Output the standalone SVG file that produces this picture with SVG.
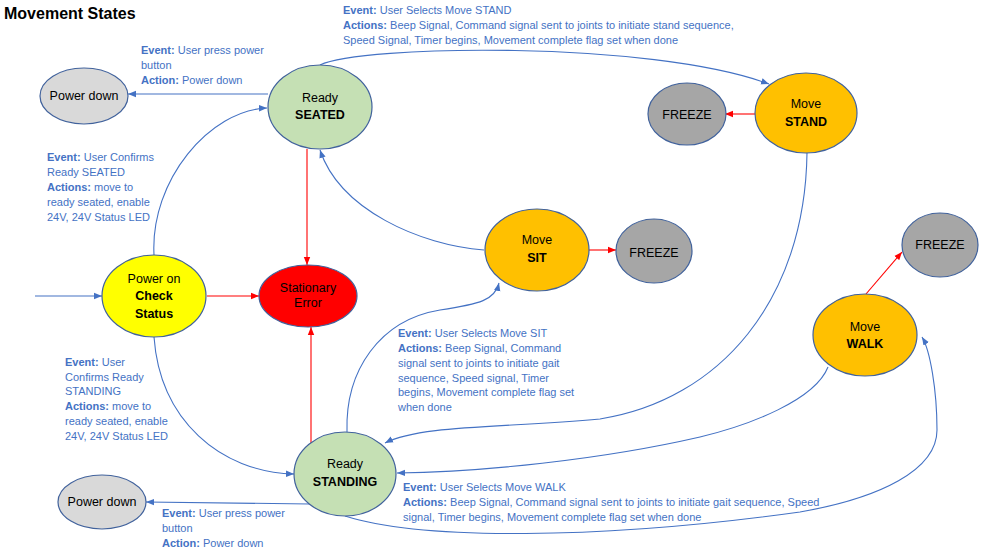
<svg xmlns="http://www.w3.org/2000/svg" width="983" height="550" viewBox="0 0 983 550">
<style>
.n{stroke:#41629C;stroke-width:1.2}
.nt{font-family:"Liberation Sans",Arial,sans-serif;font-size:12.5px;fill:#000;text-anchor:middle}
.b{font-weight:bold}
.lb{font-family:"Liberation Sans",Arial,sans-serif;font-size:11px;fill:#4472C4}
.cb{fill:none;stroke:#4472C4;stroke-width:1.1}
.cr{fill:none;stroke:#FF0000;stroke-width:1.1}
</style>
<defs>
<marker id="ab" viewBox="0 0 10 10" refX="10" refY="5" markerWidth="8" markerHeight="8" markerUnits="userSpaceOnUse" orient="auto"><path d="M0,1 L10,5 L0,9 z" fill="#4472C4"/></marker>
<marker id="ar" viewBox="0 0 10 10" refX="10" refY="5" markerWidth="8" markerHeight="8" markerUnits="userSpaceOnUse" orient="auto"><path d="M0,1 L10,5 L0,9 z" fill="#FF0000"/></marker>
</defs>
<rect width="983" height="550" fill="#fff"/>
<text x="4" y="19" font-family="Liberation Sans,Arial,sans-serif" font-size="16" font-weight="bold" fill="#000">Movement States</text>

<g id="connectors">
<path class="cb" d="M268,94 L128,94" marker-end="url(#ab)"/>
<path class="cb" d="M154,255 C150,180 210,110 267,108" marker-end="url(#ab)"/>
<path class="cr" d="M307,149 L307,265" marker-end="url(#ar)"/>
<path class="cr" d="M207,296 L259,296" marker-end="url(#ar)"/>
<path class="cb" d="M35,296 L102,296" marker-end="url(#ab)"/>
<path class="cr" d="M311,443 L311,327" marker-end="url(#ar)"/>
<path class="cb" d="M154,337 C160,420 220,472 294,474" marker-end="url(#ab)"/>
<path class="cb" d="M310,504 L146,502" marker-end="url(#ab)"/>
<path class="cb" d="M320,65 C360,45 650,40 769,84" marker-end="url(#ab)"/>
<path class="cr" d="M755,114 L725,114" marker-end="url(#ar)"/>
<path class="cb" d="M484,250 C420,245 340,210 320,150" marker-end="url(#ab)"/>
<path class="cr" d="M589,250 L616,250" marker-end="url(#ar)"/>
<path class="cb" d="M347,432 C345,370 380,320 440,310 C480,304 495,300 499,283" marker-end="url(#ab)"/>
<path class="cb" d="M807,153 C805,300 720,400 600,419 C500,428 420,425 385,443" marker-end="url(#ab)"/>
<path class="cb" d="M828,367 C815,400 750,425 700,437 C600,460 480,472 397,473" marker-end="url(#ab)"/>
<path class="cb" d="M345,516 C420,540 600,540 800,512 C880,498 937,470 937,430 C937,390 930,350 922,337" marker-end="url(#ab)"/>
<path class="cr" d="M866,294 L902,252" marker-end="url(#ar)"/>
</g>

<g id="powerdown1"><ellipse class="n" cx="84" cy="96" rx="44" ry="28" fill="#D9D9D9"/><text class="nt" x="84" y="100">Power down</text></g>
<g id="readyseated"><ellipse class="n" cx="320" cy="107" rx="52" ry="42" fill="#C5E0B4"/><text class="nt" x="320" y="102">Ready</text><text class="nt b" x="320" y="119">SEATED</text></g>
<g id="movestand"><ellipse class="n" cx="806" cy="113" rx="51" ry="40" fill="#FFC000"/><text class="nt" x="806" y="108">Move</text><text class="nt b" x="806" y="126">STAND</text></g>
<g id="freeze1"><ellipse class="n" cx="687" cy="114" rx="39" ry="31" fill="#A6A6A6"/><text class="nt" x="687" y="119">FREEZE</text></g>
<g id="poweron"><ellipse class="n" cx="154" cy="296" rx="52" ry="41" fill="#FFFF00"/><text class="nt" x="154" y="283">Power on</text><text class="nt b" x="154" y="300">Check</text><text class="nt b" x="154" y="318">Status</text></g>
<g id="staterror"><ellipse class="n" cx="308" cy="296" rx="49" ry="31" fill="#FF0000"/><text class="nt" x="308" y="292">Stationary</text><text class="nt" x="308" y="307">Error</text></g>
<g id="movesit"><ellipse class="n" cx="537" cy="250" rx="52" ry="41" fill="#FFC000"/><text class="nt" x="537" y="244">Move</text><text class="nt b" x="537" y="262">SIT</text></g>
<g id="freeze2"><ellipse class="n" cx="654" cy="251" rx="38" ry="32" fill="#A6A6A6"/><text class="nt" x="654" y="257">FREEZE</text></g>
<g id="movewalk"><ellipse class="n" cx="865" cy="335" rx="52" ry="41" fill="#FFC000"/><text class="nt" x="865" y="331">Move</text><text class="nt b" x="865" y="348">WALK</text></g>
<g id="freeze3"><ellipse class="n" cx="940" cy="245" rx="38" ry="32" fill="#A6A6A6"/><text class="nt" x="940" y="249">FREEZE</text></g>
<g id="readystanding"><ellipse class="n" cx="345" cy="474" rx="51" ry="42" fill="#C5E0B4"/><text class="nt" x="345" y="468">Ready</text><text class="nt b" x="345" y="486">STANDING</text></g>
<g id="powerdown2"><ellipse class="n" cx="102" cy="502" rx="44" ry="27" fill="#D9D9D9"/><text class="nt" x="102" y="506">Power down</text></g>

<g id="labels">
<text class="lb" x="343"><tspan x="343" y="14"><tspan class="b">Event:</tspan> User Selects Move STAND</tspan><tspan x="343" y="29"><tspan class="b">Actions:</tspan> Beep Signal, Command signal sent to joints to initiate stand sequence,</tspan><tspan x="343" y="44">Speed Signal, Timer begins, Movement complete flag set when done</tspan></text>
<text class="lb"><tspan x="141" y="54"><tspan class="b">Event:</tspan> User press power</tspan><tspan x="141" y="69">button</tspan><tspan x="141" y="84"><tspan class="b">Action:</tspan> Power down</tspan></text>
<text class="lb"><tspan x="47" y="161"><tspan class="b">Event:</tspan> User Confirms</tspan><tspan x="47" y="176">Ready SEATED</tspan><tspan x="47" y="191"><tspan class="b">Actions:</tspan> move to</tspan><tspan x="47" y="206">ready seated, enable</tspan><tspan x="47" y="221">24V, 24V Status LED</tspan></text>
<text class="lb"><tspan x="65" y="366"><tspan class="b">Event:</tspan> User</tspan><tspan x="65" y="381">Confirms Ready</tspan><tspan x="65" y="395">STANDING</tspan><tspan x="65" y="410"><tspan class="b">Actions:</tspan> move to</tspan><tspan x="65" y="425">ready seated, enable</tspan><tspan x="65" y="440">24V, 24V Status LED</tspan></text>
<text class="lb"><tspan x="162" y="517"><tspan class="b">Event:</tspan> User press power</tspan><tspan x="162" y="532">button</tspan><tspan x="162" y="547"><tspan class="b">Action:</tspan> Power down</tspan></text>
<text class="lb"><tspan x="398" y="337"><tspan class="b">Event:</tspan> User Selects Move SIT</tspan><tspan x="398" y="352"><tspan class="b">Actions:</tspan> Beep Signal, Command</tspan><tspan x="398" y="367">signal sent to joints to initiate gait</tspan><tspan x="398" y="382">sequence, Speed signal, Timer</tspan><tspan x="398" y="396">begins, Movement complete flag set</tspan><tspan x="398" y="411">when done</tspan></text>
<text class="lb"><tspan x="403" y="491"><tspan class="b">Event:</tspan> User Selects Move WALK</tspan><tspan x="403" y="506"><tspan class="b">Actions:</tspan> Beep Signal, Command signal sent to joints to initiate gait sequence, Speed</tspan><tspan x="403" y="521">signal, Timer begins, Movement complete flag set when done</tspan></text>
</g>
</svg>
